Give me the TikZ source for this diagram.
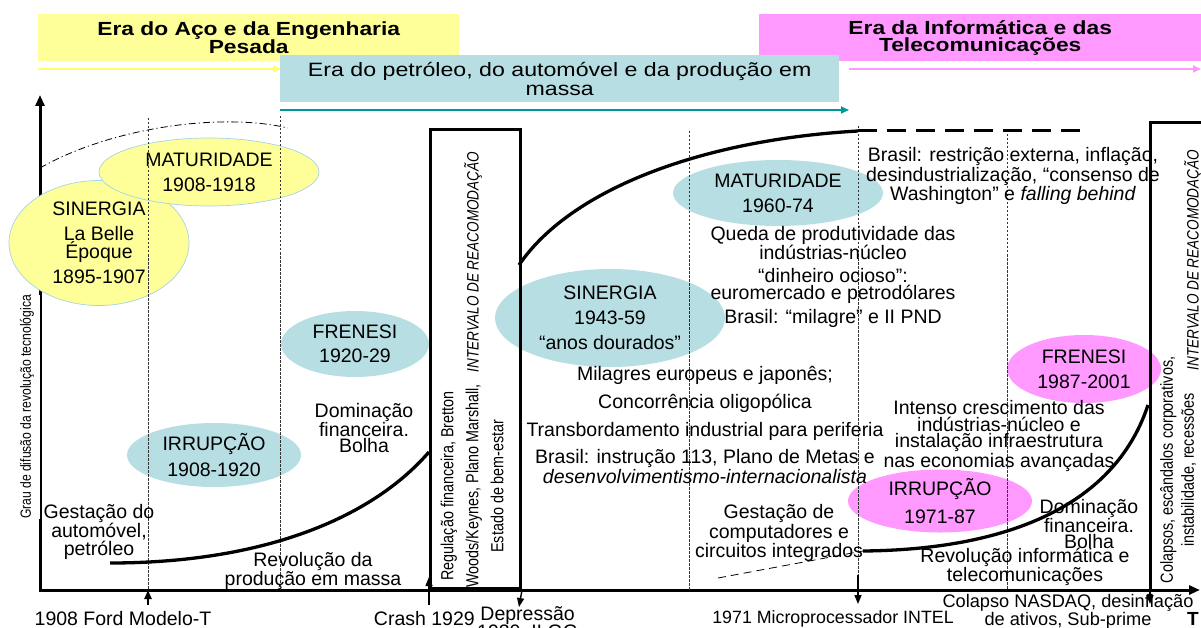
\documentclass[tikz,border=0pt]{standalone}
\usepackage{fontspec}
\setmainfont{Liberation Sans}
\newfontfamily\narrowfont[FakeStretch=0.82]{Liberation Sans}
\newfontfamily\widefont[FakeStretch=1.2]{Liberation Sans}
\usetikzlibrary{arrows.meta, shapes.geometric}
\definecolor{steelyellow}{HTML}{FFFF99}
\definecolor{oilteal}{HTML}{B7DEE3}
\definecolor{infopink}{HTML}{FF99FF}
\definecolor{darkteal}{HTML}{009999}
\definecolor{rimblue}{HTML}{A6D3E3}
\definecolor{paleyellow}{HTML}{FFFF66}
\tikzset{
x=1pt, y=-1pt, % one unit is one pixel of the sketch, y runs downwards
every node/.style={inner sep=0pt, align=center},
txt/.style={font=\fontsize{19.5}{16.5}\selectfont}, % plain labels
era/.style={font=\widefont\bfseries\fontsize{19}{17}\selectfont, minimum height=47, anchor=north west}, % banners on top
phase/.style={ellipse, font=\fontsize{19.5}{16.5}\selectfont}, % the phase bubbles
vert/.style={rotate=90, font=\narrowfont\fontsize{17.5}{25}\selectfont}, % text standing on its side
axis/.style={line width=3pt, {Triangle[length=11pt,width=9pt]}-{Triangle[length=11pt,width=9pt]}},
guide/.style={line width=0.9pt, dash pattern=on 2.5pt off 1.5pt, black!80}, % the dotted year lines
wave/.style={line width=3.3pt},
frame/.style={line width=3pt},
event/.style={line width=1.4pt, -{Triangle[length=9pt,width=7pt]}},
}

\begin{document}
\begin{tikzpicture}
\useasboundingbox (0,0) rectangle (1201,628);

% eras along the top
\node[era, fill=steelyellow, minimum width=421] (steel) at (38,14) {Era do Aço e da Engenharia\\Pesada};
\node[era, fill=infopink, minimum width=442] (info) at (759,14) {Era da Informática e das\\Telecomunicações};
\node[era, fill=oilteal, minimum width=559, font=\widefont\fontsize{19.3}{19}\selectfont] (oil) at (280,55) {Era do petróleo, do automóvel e da produção em\\massa};

\coordinate (steelA) at (38,69);
\coordinate (steelB) at (281,69);
\coordinate (oilA) at (280,110);
\coordinate (oilB) at (849,110);
\coordinate (infoA) at (849,69);
\coordinate (infoB) at (1201,69);
\draw[paleyellow, line width=2.5pt, -{Triangle[length=8pt,width=7pt]}] (steelA) -- (steelB);
\draw[darkteal, line width=2.5pt, -{Triangle[length=8pt,width=7pt]}] (oilA) -- (oilB);
\draw[infopink, line width=2.5pt, -{Triangle[length=8pt,width=7pt]}] (infoA) -- (infoB);

% axes
\coordinate (ytop) at (40,95);
\coordinate (origin) at (40,590);
\coordinate (xend) at (1200,590);
\draw[axis] (ytop) -- (origin) -- (xend);

% phase bubbles
\node[phase, fill=steelyellow, draw=rimblue, line width=0.7pt, minimum width=180, minimum height=125] (sin1) at (99,243) {SINERGIA\\[8pt]La Belle\\Époque\\[7pt]1895-1907};
\node[phase, fill=steelyellow, draw=rimblue, line width=0.7pt, minimum width=220, minimum height=68] (mat1) at (209,172) {MATURIDADE\\[8.5pt]1908-1918};
\node[phase, fill=oilteal, minimum width=148, minimum height=66] (fre1) at (355,344) {FRENESI\\[8pt]1920-29};
\node[phase, fill=oilteal, minimum width=174, minimum height=64] (irr1) at (214,455) {IRRUPÇÃO\\[8pt]1908-1920};
\node[phase, fill=oilteal, minimum width=230, minimum height=98] (sin2) at (610,318) {SINERGIA\\[8.5pt]1943-59\\[8.5pt]“anos dourados”};
\node[phase, fill=oilteal, minimum width=210, minimum height=66] (mat2) at (778,193) {MATURIDADE\\[8.5pt]1960-74};
\node[phase, fill=infopink, minimum width=154, minimum height=68] (fre3) at (1084,369) {FRENESI\\[8.5pt]1987-2001};
\node[phase, fill=infopink, minimum width=184, minimum height=63] (irr3) at (940,501) {IRRUPÇÃO\\[8.5pt]1971-87};

% dotted year lines
\draw[guide] (148,118) -- (148,590);
\draw[guide] (280,116) -- (280,590);
\draw[guide] (689,131) -- (689,590);
\draw[guide] (858,126) -- (858,590);
\draw[guide] (1007,130) -- (1007,590);
\draw[line width=0.8pt, dash pattern=on 7pt off 3pt on 1.2pt off 3pt] (40,168) .. controls (110,128) and (220,112) .. (288,128);

\node[vert, fill=white, minimum height=26, font=\narrowfont\fontsize{14.8}{16}\selectfont] (ylab) at (27,407) {Grau de difusão da revolução tecnológica};
\node[font=\bfseries\fontsize{19}{19}\selectfont] (tlab) at (1193,619) {T};

% intervals of readjustment
\node[draw, frame, minimum width=90, minimum height=459, anchor=south west] (gap1) at (429,590) {};
\node[vert] (reg1) at (472,486) {Regulação financeira, Bretton\\Woods/Keynes, Plano Marshall,\\Estado de bem-estar};
\node[vert, font=\narrowfont\itshape\fontsize{16.5}{20}\selectfont] (int1) at (473,262) {INTERVALO DE REACOMODAÇÃO};
\coordinate (gap2r) at (1210,123);
\coordinate (gap2t) at (1150,123);
\coordinate (gap2b) at (1150,590);
\draw[frame] (gap2r) -- (gap2t) -- (gap2b);
\node[vert, font=\narrowfont\fontsize{17.5}{21}\selectfont] (col2) at (1178,470) {Colapsos, escândalos corporativos,\\instabilidade, recessões};
\node[vert, font=\narrowfont\itshape\fontsize{16.5}{20}\selectfont] (int2) at (1193,260) {INTERVALO DE REACOMODAÇÃO};

% the two surges
\coordinate (s1a) at (110,563);
\coordinate (s1b) at (429,452);
\coordinate (s1c) at (519,265);
\coordinate (s1d) at (858,131);
\coordinate (s1e) at (1085,131);
\draw[wave] (s1a) .. controls (260,563) and (370,520) .. (s1b);
\draw[wave] (s1c) .. controls (570,190) and (700,140) .. (s1d);
\draw[line width=3pt, dash pattern=on 19pt off 10pt] (s1d) -- (s1e);
\coordinate (s2a) at (863,551);
\coordinate (s2b) at (1148,405);
\coordinate (s2c) at (718,578);
\draw[wave] (s2a) .. controls (980,550) and (1110,520) .. (s2b);
\draw[line width=0.8pt, dash pattern=on 8pt off 5pt] (s2c) -- (s2a);

% turning points
\coordinate (fordA) at (148,605);
\coordinate (fordB) at (148,590);
\coordinate (crashA) at (429,605);
\coordinate (crashB) at (429,577);
\coordinate (depB) at (519,607);
\coordinate (intelA) at (858,575);
\coordinate (intelB) at (858,604);
\coordinate (nasdaqB) at (1150,604);
\draw[event, line width=2.2pt] (fordA) -- (fordB);
\draw[event] (crashA) -- (crashB);
\draw[event] (gap1.south east) -- (depB);
\draw[event] (intelA) -- (intelB);
\draw[event] (gap2b) -- (nasdaqB);

% first surge texts
\node[txt] (gest1) at (99,532) {Gestação do\\automóvel,\\petróleo};
\node[txt] (rev1) at (313,571) {Revolução da\\produção em massa};
\node[txt] (dom1) at (364,428) {Dominação\\financeira.\\Bolha};

% second surge texts
\node[txt] (list2) at (705,425) {Milagres europeus e japonês;\\[8.5pt]Concorrência oligopólica\\[8.5pt]Transbordamento industrial para periferia\\[8.5pt]Brasil: instrução 113, Plano de Metas e\\\textit{desenvolvimentismo-internacionalista}};
\node[txt] (que2) at (833,243) {Queda de produtividade das\\indústrias-núcleo};
\node[txt] (din2) at (833,286) {“dinheiro ocioso”:\\euromercado e petrodólares};
\node[txt] (mil2) at (833,318) {Brasil: “milagre” e II PND};
\node[txt] (bra2) at (1013,176) {Brasil: restrição externa, inflação,\\desindustrialização, “consenso de\\Washington” e \textit{falling behind}};

% third surge texts
\node[txt] (gest3) at (779,533) {Gestação de\\computadores e\\circuitos integrados};
\node[txt] (int3) at (999,436) {Intenso crescimento das\\indústrias-núcleo e\\instalação infraestrutura\\nas economias avançadas};
\node[txt] (dom3) at (1089,524) {Dominação\\financeira.\\Bolha};
\node[txt] (rev3) at (1025,567) {Revolução informática e\\telecomunicações};

% dates under the axis
\node[txt] (ford) at (123,619) {1908 Ford Modelo-T};
\node[txt, anchor=east] (crash) at (475,619) {Crash 1929};
\node[txt, anchor=north west] (dep) at (477,606) {Depressão\\1930, ILGG};
\node[txt, font=\fontsize{17.8}{16}\selectfont] (intel) at (833,619) {1971 Microprocessador INTEL};
\node[txt, font=\fontsize{18.2}{15}\selectfont] (nasdaq) at (1068,612) {Colapso NASDAQ, desinflação\\de ativos, Sub-prime};
\end{tikzpicture}
\end{document}
